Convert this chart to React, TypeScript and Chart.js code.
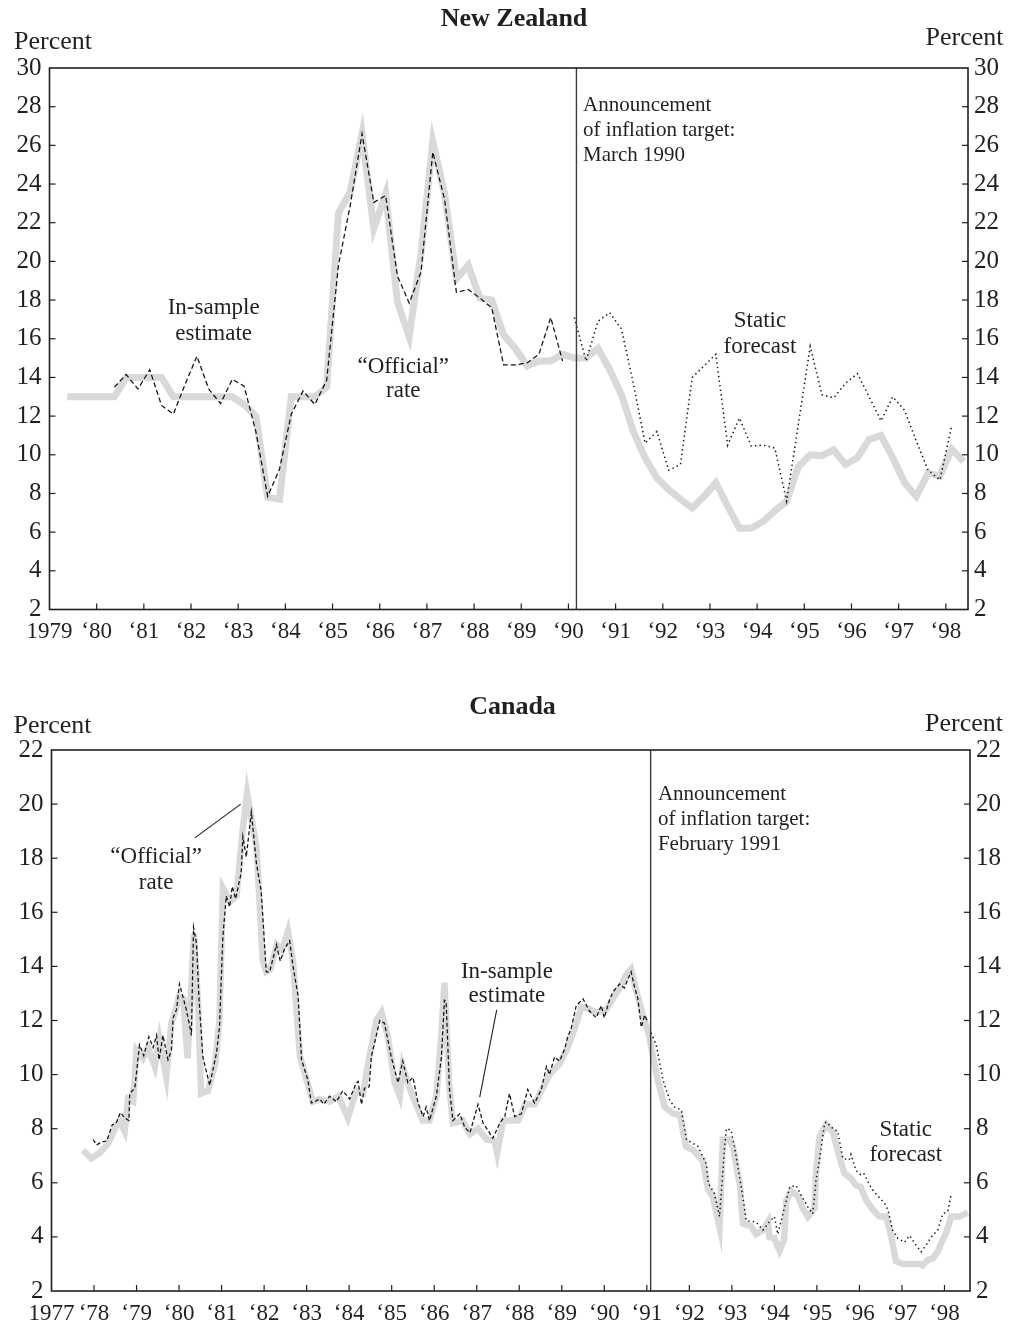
import React, { useEffect, useRef } from 'react';
import { Chart, registerables } from 'chart.js';

Chart.register(...registerables);

const SERIF = '"Liberation Serif", "Times New Roman", Times, serif';
const INK = '#231f20';
const GREY = '#d9d9d9';

// ---------------- New Zealand (quarterly) ----------------
const nzYearTicks = [1979, 1980, 1981, 1982, 1983, 1984, 1985, 1986, 1987, 1988, 1989, 1990, 1991, 1992, 1993, 1994, 1995, 1996, 1997, 1998];
const nzOfficialStart = 1979.375; // 1979 Q2 (quarter midpoints)
const nzOfficial = [
  13.0, 13.0, 13.0,
  13.0, 13.0, 14.0, 14.0,
  14.0, 14.0, 13.0, 13.0,
  13.0, 13.0, 13.0, 13.0,
  12.6, 12.0, 7.8, 7.7,
  13.0, 13.0, 13.0, 13.5,
  22.5, 23.6, 26.6, 21.7,
  23.5, 17.9, 16.1, 20.4,
  26.2, 23.5, 19.1, 19.8,
  18.1, 18.0, 16.2, 15.5,
  14.6, 14.85, 14.85, 15.2,
  15.0, 15.0, 15.5, 14.4,
  13.1, 11.2, 9.85, 8.8,
  8.2, 7.7, 7.25, 7.85,
  8.55, 7.35, 6.2, 6.2,
  6.55, 7.1, 7.6, 9.4,
  10.0, 9.95, 10.25, 9.5,
  9.85, 10.8, 11.0, 9.85,
  8.55, 7.85, 9.05, 8.9,
  10.3, 9.65,
];
const nzEstimateStart = 1980.375; // 1980 Q2
const nzEstimate = [
  13.5, 14.15, 13.4,
  14.4, 12.55, 12.1, 13.65,
  15.1, 13.4, 12.65, 13.9,
  13.55, 11.2, 7.85, 9.25,
  12.1, 13.3, 12.6, 13.85,
  19.8, 22.9, 26.6, 23.05,
  23.4, 19.25, 17.85, 19.45,
  25.65, 23.2, 18.4, 18.55,
  18.1, 17.6, 14.65, 14.65,
  14.75, 15.2, 17.1, 14.85,
];
const nzForecastStart = 1990.125; // 1990 Q1
const nzForecast = [
  17.1, 14.85, 16.9, 17.35,
  16.5, 13.7, 10.6, 11.2,
  9.2, 9.5, 14.0, 14.6,
  15.2, 10.5, 11.9, 10.45,
  10.5, 10.35, 7.6, 11.6,
  15.6, 13.1, 12.95, 13.7,
  14.2, 13.0, 11.75, 13.0,
  12.3, 10.7, 9.2, 8.7,
  11.5,
];
const nzAnnouncement = 1990.17; // March 1990

// ---------------- Canada (monthly, vertices) ----------------
const caYearTicks = [1977, 1978, 1979, 1980, 1981, 1982, 1983, 1984, 1985, 1986, 1987, 1988, 1989, 1990, 1991, 1992, 1993, 1994, 1995, 1996, 1997, 1998];
const caOfficialT = [
  1977.74, 1977.94, 1978.13, 1978.33, 1978.49, 1978.6, 1978.72, 1978.8, 1978.92, 1979.0,
  1979.15, 1979.27, 1979.43, 1979.54, 1979.7, 1979.82, 1979.94, 1980.0, 1980.1, 1980.2,
  1980.35, 1980.45, 1980.52, 1980.68, 1980.85, 1980.95, 1981.03, 1981.2, 1981.35, 1981.5,
  1981.6, 1981.7, 1981.82, 1981.97, 1982.05, 1982.15, 1982.3, 1982.42, 1982.56, 1982.68,
  1982.84, 1983.0, 1983.15, 1983.3, 1983.54, 1983.75, 1983.97, 1984.17, 1984.33, 1984.4,
  1984.64, 1984.76, 1984.91, 1985.07, 1985.19, 1985.26, 1985.42, 1985.57, 1985.73, 1985.89,
  1986.05, 1986.17, 1986.24, 1986.35, 1986.44, 1986.67, 1986.84, 1987.03, 1987.23, 1987.42,
  1987.48, 1987.62, 1987.81, 1987.97, 1988.15, 1988.36, 1988.52, 1988.71, 1988.95, 1989.14,
  1989.3, 1989.46, 1989.61, 1989.81, 1990.04, 1990.2, 1990.36, 1990.52, 1990.63, 1990.75,
  1990.91, 1991.06, 1991.22, 1991.42, 1991.61, 1991.78, 1991.92, 1992.1, 1992.32, 1992.44,
  1992.55, 1992.71, 1992.79, 1992.95, 1993.03, 1993.19, 1993.26, 1993.45, 1993.57, 1993.73,
  1993.85, 1993.88, 1994.0, 1994.12, 1994.23, 1994.28, 1994.4, 1994.55, 1994.67, 1994.79,
  1994.94, 1994.98, 1995.06, 1995.22, 1995.38, 1995.53, 1995.65, 1995.81, 1995.92, 1996.03,
  1996.16, 1996.32, 1996.47, 1996.63, 1996.75, 1996.86, 1997.02, 1997.26, 1997.41, 1997.49,
  1997.61, 1997.72, 1997.84, 1997.96, 1998.04, 1998.16, 1998.35, 1998.55,
];
const caOfficialV = [
  7.2, 6.9, 7.1, 7.45, 8.0, 8.3, 7.9, 9.1, 9.0, 10.9,
  10.6, 11.0, 10.3, 11.3, 9.9, 11.9, 12.5, 12.9, 12.8, 10.6,
  15.2, 12.5, 9.3, 9.4, 10.4, 12.0, 16.9, 16.4, 16.6, 19.1,
  20.4, 19.5, 18.4, 14.2, 13.8, 13.9, 14.8, 14.6, 15.3, 14.2,
  10.7, 9.8, 9.0, 9.1, 9.0, 9.2, 8.4, 9.4, 9.3, 10.0,
  12.0, 12.3, 11.4, 9.7, 9.2, 10.3, 9.5, 8.9, 8.3, 8.3,
  9.2, 11.5, 13.4, 9.7, 8.2, 8.3, 7.8, 8.0, 7.6, 7.55,
  7.1, 8.3, 8.3, 8.3, 8.9, 8.9, 9.4, 10.0, 10.4, 11.0,
  11.7, 12.5, 12.45, 12.3, 12.4, 12.8, 13.2, 13.7, 13.9, 13.1,
  12.2, 11.4, 10.05, 8.8, 8.57, 8.5, 7.35, 7.2, 6.8, 5.75,
  5.5, 4.35, 7.6, 7.6, 7.3, 5.9, 4.5, 4.4, 4.1, 4.25,
  4.55, 4.0, 3.95, 3.5, 3.9, 5.35, 5.7, 5.5, 5.05, 4.75,
  5.05, 6.35, 7.7, 8.15, 7.85, 6.95, 6.35, 6.15, 5.9, 5.85,
  5.35, 5.0, 4.75, 4.75, 4.0, 3.1, 3.0, 3.0, 3.0, 2.95,
  3.15, 3.2, 3.45, 3.9, 4.15, 4.75, 4.75, 4.9,
];
const caEstimateT = [
  1977.98, 1978.06, 1978.17, 1978.3, 1978.43, 1978.52, 1978.62, 1978.72, 1978.82, 1978.84,
  1978.96, 1979.07, 1979.17, 1979.29, 1979.39, 1979.47, 1979.53, 1979.62, 1979.74, 1979.82,
  1979.86, 1979.94, 1980.01, 1980.17, 1980.25, 1980.29, 1980.34, 1980.41, 1980.47, 1980.56,
  1980.72, 1980.88, 1980.95, 1981.03, 1981.11, 1981.19, 1981.25, 1981.33, 1981.41, 1981.46,
  1981.5, 1981.58, 1981.7, 1981.82, 1981.93, 1982.05, 1982.13, 1982.29, 1982.38, 1982.48,
  1982.6, 1982.68, 1982.8, 1982.88, 1983.03, 1983.11, 1983.19, 1983.31, 1983.4, 1983.54,
  1983.7, 1983.85, 1984.01, 1984.17, 1984.21, 1984.29, 1984.36, 1984.47, 1984.52, 1984.72,
  1984.83, 1984.99, 1985.15, 1985.26, 1985.38, 1985.5, 1985.62, 1985.74, 1985.81, 1985.89,
  1986.05, 1986.17, 1986.24, 1986.28, 1986.36, 1986.44, 1986.6, 1986.72, 1986.84, 1987.03,
  1987.15, 1987.26, 1987.38, 1987.54, 1987.66, 1987.77, 1987.89, 1988.05, 1988.2, 1988.36,
  1988.52, 1988.64, 1988.71, 1988.83, 1988.95, 1989.07, 1989.14, 1989.22, 1989.34, 1989.5,
  1989.65, 1989.81, 1989.93, 1990.0, 1990.12, 1990.2, 1990.36, 1990.47, 1990.63, 1990.71,
  1990.79, 1990.87, 1990.95, 1991.02,
];
const caEstimateV = [
  7.6, 7.4, 7.5, 7.55, 8.15, 8.2, 8.6, 8.4, 8.3, 9.3,
  9.5, 11.1, 10.7, 11.4, 11.0, 11.45, 10.55, 11.45, 10.55, 10.9,
  12.1, 12.4, 13.35, 12.4, 11.8, 11.45, 15.45, 14.85, 12.75, 10.65,
  9.6, 10.8, 11.75, 15.1, 16.6, 16.2, 16.95, 16.5, 17.1, 17.45,
  18.8, 18.05, 19.7, 17.8, 16.8, 13.8, 13.8, 14.8, 14.2, 14.65,
  14.95, 14.0, 12.9, 10.55, 9.8, 8.95, 9.0, 9.1, 8.9, 9.2,
  9.0, 9.4, 9.1, 9.7, 9.75, 8.9, 9.5, 9.55, 10.65, 12.0,
  11.9, 10.65, 9.7, 10.5, 9.7, 9.9, 8.95, 8.45, 8.8, 8.3,
  9.2, 10.65, 12.75, 12.7, 9.45, 8.3, 8.55, 8.05, 7.85, 8.9,
  8.2, 7.95, 7.65, 8.2, 8.45, 9.3, 8.45, 8.55, 9.45, 8.95,
  9.45, 10.3, 10.0, 10.65, 10.5, 10.95, 11.4, 11.7, 12.55, 12.8,
  12.35, 12.1, 12.55, 12.1, 12.75, 13.05, 13.35, 13.2, 13.8, 13.25,
  12.8, 11.75, 12.2, 11.95,
];
const caForecastT = [
  1991.1, 1991.22, 1991.38, 1991.54, 1991.65, 1991.81, 1991.93, 1992.2, 1992.4, 1992.44,
  1992.59, 1992.71, 1992.83, 1992.87, 1992.98, 1993.06, 1993.22, 1993.34, 1993.57, 1993.73,
  1993.88, 1994.0, 1994.08, 1994.36, 1994.51, 1994.66, 1994.79, 1994.9, 1994.98, 1995.06,
  1995.18, 1995.22, 1995.38, 1995.49, 1995.61, 1995.76, 1995.8, 1995.92, 1996.03, 1996.1,
  1996.28, 1996.44, 1996.59, 1996.67, 1996.78, 1996.9, 1997.06, 1997.18, 1997.33, 1997.45,
  1997.57, 1997.69, 1997.84, 1997.96, 1998.08, 1998.16,
];
const caForecastV = [
  11.55, 11.1, 9.8, 9.05, 8.8, 8.7, 7.6, 7.35, 6.7, 6.0,
  5.6, 4.75, 7.35, 8.0, 7.95, 7.35, 5.85, 4.6, 4.55, 4.25,
  4.55, 4.75, 4.1, 5.85, 5.9, 5.45, 5.1, 4.85, 6.1, 6.85,
  8.2, 8.25, 8.0, 7.9, 6.9, 6.85, 7.05, 6.45, 6.3, 6.35,
  5.8, 5.5, 5.25, 5.0, 4.25, 3.95, 3.8, 4.05, 3.7, 3.45,
  3.7, 4.0, 4.25, 4.85, 4.95, 5.6,
];
const caAnnouncement = 1991.09; // February 1991

// ---------------- helpers ----------------
const quarterPoints = (start: number, values: number[]) =>
  values.map((v, i) => ({ x: start + i * 0.25, y: v }));
const pairPoints = (ts: number[], vs: number[]) => ts.map((t, i) => ({ x: t, y: vs[i] }));

type TextItem = {
  t?: number; v?: number; px?: number; py?: number;
  lines: string[]; lh?: number; size: number; bold?: boolean; align?: CanvasTextAlign;
};

type Deco = {
  announceAt: number;
  texts: TextItem[];
  pointers: number[][][];
};

function makeDeco(d: Deco) {
  return {
    id: 'deco',
    afterDraw(chart: any) {
      const { ctx, chartArea: a, scales } = chart;
      const xs = scales.x;
      const ys = scales.y;
      const line = (x1: number, y1: number, x2: number, y2: number) => {
        ctx.beginPath();
        ctx.moveTo(x1, y1);
        ctx.lineTo(x2, y2);
        ctx.stroke();
      };
      ctx.save();
      ctx.setLineDash([]);
      // announcement line
      ctx.strokeStyle = '#3c3c3c';
      ctx.lineWidth = 1.4;
      const ax = xs.getPixelForValue(d.announceAt);
      line(ax, a.top, ax, a.bottom);
      // frame
      ctx.strokeStyle = INK;
      ctx.lineWidth = 1.6;
      ctx.strokeRect(a.left, a.top, a.right - a.left, a.bottom - a.top);
      // inward tick marks
      ctx.lineWidth = 1.2;
      xs.ticks.forEach((tk: any) => {
        const p = xs.getPixelForValue(tk.value);
        if (p > a.left + 2 && p < a.right - 2) line(p, a.bottom, p, a.bottom - 6);
      });
      ys.ticks.forEach((tk: any) => {
        const p = ys.getPixelForValue(tk.value);
        if (p > a.top + 2 && p < a.bottom - 2) {
          line(a.left, p, a.left + 6, p);
          line(a.right, p, a.right - 6, p);
        }
      });
      // pointer lines
      ctx.lineWidth = 1.1;
      d.pointers.forEach((pt) => {
        line(xs.getPixelForValue(pt[0][0]), ys.getPixelForValue(pt[0][1]),
          xs.getPixelForValue(pt[1][0]), ys.getPixelForValue(pt[1][1]));
      });
      // texts
      ctx.fillStyle = INK;
      ctx.textBaseline = 'middle';
      d.texts.forEach((tx) => {
        ctx.font = `${tx.bold ? 'bold ' : ''}${tx.size}px ${SERIF}`;
        ctx.textAlign = tx.align || 'center';
        const x = tx.t !== undefined ? xs.getPixelForValue(tx.t) : (tx.px as number);
        const y = tx.v !== undefined ? ys.getPixelForValue(tx.v) : (tx.py as number);
        tx.lines.forEach((s, i) => ctx.fillText(s, x, y + i * (tx.lh || 0)));
      });
      ctx.restore();
    },
  };
}

type PanelSpec = {
  width: number; height: number;
  area: { left: number; right: number; top: number; bottom: number };
  xMin: number; xMax: number; years: number[];
  yMax: number;
  datasets: any[];
  deco: Deco;
};

function Panel({ spec, top }: { spec: PanelSpec; top: number }) {
  const ref = useRef<HTMLCanvasElement | null>(null);
  useEffect(() => {
    if (!ref.current) return;
    const s = spec;
    const yAxis = (position: 'left' | 'right', width: number, pad: number) => ({
      type: 'linear',
      position,
      min: 2,
      max: s.yMax,
      grid: { display: false, drawTicks: false },
      border: { display: false },
      ticks: {
        stepSize: 2,
        padding: pad,
        color: INK,
        font: { family: SERIF, size: 25 },
        callback: (v: any) => String(v),
      },
      afterFit: (sc: any) => { sc.width = width; },
    });
    const chart = new Chart(ref.current, {
      type: 'line',
      data: { datasets: s.datasets },
      options: {
        responsive: false,
        animation: false,
        events: [],
        layout: { padding: { left: 0, right: 0, top: s.area.top, bottom: 0 } },
        plugins: { legend: { display: false }, tooltip: { enabled: false }, title: { display: false } },
        elements: { point: { radius: 0 }, line: { tension: 0 } },
        scales: {
          x: {
            type: 'linear',
            min: s.xMin,
            max: s.xMax,
            grid: { display: false, drawTicks: false },
            border: { display: false },
            afterBuildTicks: (sc: any) => { sc.ticks = s.years.map((y) => ({ value: y })); },
            ticks: {
              autoSkip: false,
              maxRotation: 0,
              padding: 9,
              color: INK,
              font: { family: SERIF, size: 23 },
              callback: (v: any) => (v === s.years[0] ? String(v) : '\u2018' + String(v).slice(2)),
            },
            afterFit: (sc: any) => { sc.height = s.height - s.area.bottom; },
          },
          y: yAxis('left', s.area.left, 8) as any,
          y2: yAxis('right', s.width - s.area.right, 6) as any,
        },
      } as any,
      plugins: [makeDeco(s.deco)],
    });
    return () => chart.destroy();
  }, [spec]);
  return (
    <canvas
      ref={ref}
      width={spec.width}
      height={spec.height}
      style={{ position: 'absolute', left: 0, top, width: spec.width, height: spec.height, display: 'block' }}
    />
  );
}

const grey = (data: any[], width: number) => ({
  data, borderColor: GREY, borderWidth: width, pointRadius: 0, fill: false, borderJoinStyle: 'miter',
});
const dashed = (data: any[], dash: number[]) => ({
  data, borderColor: '#111', borderWidth: 1.25, borderDash: dash, pointRadius: 0, fill: false,
});
const dotted = (data: any[]) => ({
  data, borderColor: '#111', borderWidth: 1.5, borderDash: [1.4, 3.2], borderCapStyle: 'butt', pointRadius: 0, fill: false,
});

const nzSpec: PanelSpec = {
  width: 1011,
  height: 660,
  area: { left: 49.5, right: 968, top: 68, bottom: 609.5 },
  xMin: 1979, xMax: 1998.47, years: nzYearTicks, yMax: 30,
  datasets: [
    dashed(quarterPoints(nzEstimateStart, nzEstimate), [5, 3]),
    dotted(quarterPoints(nzForecastStart, nzForecast)),
    grey(quarterPoints(nzOfficialStart, nzOfficial), 7),
  ],
  deco: {
    announceAt: nzAnnouncement,
    pointers: [],
    texts: [
      { px: 514, py: 19, lines: ['New Zealand'], size: 26, bold: true },
      { px: 53, py: 42, lines: ['Percent'], size: 26 },
      { px: 964.5, py: 38, lines: ['Percent'], size: 26 },
      { t: 1982.48, v: 17.6, lines: ['In-sample', 'estimate'], lh: 26, size: 23 },
      { t: 1986.5, v: 14.55, lines: ['\u201cOfficial\u201d', 'rate'], lh: 24, size: 23 },
      { t: 1990.31, v: 28.06, lines: ['Announcement', 'of inflation target:', 'March 1990'], lh: 25, size: 21, align: 'left' },
      { t: 1994.06, v: 16.93, lines: ['Static', 'forecast'], lh: 26, size: 23 },
    ],
  },
};

const caSpec: PanelSpec = {
  width: 1011,
  height: 649,
  area: { left: 51.5, right: 970, top: 70, bottom: 611 },
  xMin: 1977, xMax: 1998.6, years: caYearTicks, yMax: 22,
  datasets: [
    dashed(pairPoints(caEstimateT, caEstimateV), [4, 2.5]),
    dotted(pairPoints(caForecastT, caForecastV)),
    grey(pairPoints(caOfficialT, caOfficialV), 6.5),
  ],
  deco: {
    announceAt: caAnnouncement,
    pointers: [
      [[1980.37, 18.75], [1981.45, 20.0]],
      [[1987.47, 12.39], [1987.07, 9.17]],
    ],
    texts: [
      { px: 512.5, py: 27, lines: ['Canada'], size: 26, bold: true },
      { px: 52.5, py: 46, lines: ['Percent'], size: 26 },
      { px: 964, py: 44, lines: ['Percent'], size: 26 },
      { t: 1979.46, v: 18.04, lines: ['\u201cOfficial\u201d', 'rate'], lh: 26, size: 23 },
      { t: 1987.71, v: 13.79, lines: ['In-sample', 'estimate'], lh: 24, size: 23 },
      { t: 1991.26, v: 20.34, lines: ['Announcement', 'of inflation target:', 'February 1991'], lh: 25, size: 21, align: 'left' },
      { t: 1997.09, v: 7.95, lines: ['Static', 'forecast'], lh: 25, size: 23 },
    ],
  },
};

export default function App() {
  return (
    <div style={{ position: 'absolute', left: 0, top: 0, width: 1011, height: 1329, background: '#fff' }}>
      <Panel spec={nzSpec} top={0} />
      <Panel spec={caSpec} top={680} />
    </div>
  );
}
